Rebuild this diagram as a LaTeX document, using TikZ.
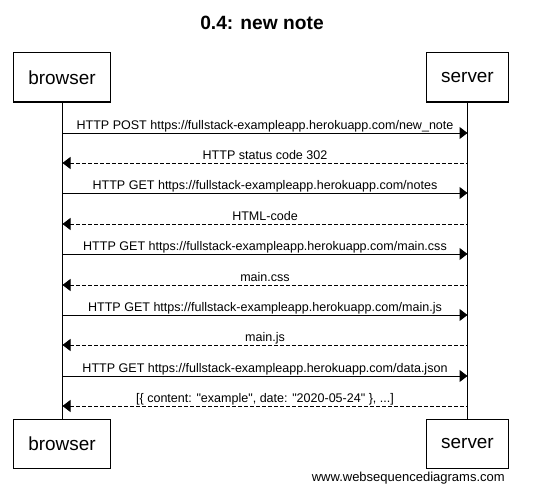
\documentclass[tikz,border=0pt]{standalone}
\usepackage{fontspec}
\setmainfont{Liberation Sans}[Ligatures=TeXOff]
\usepackage{tikz}
\usetikzlibrary{arrows.meta}
\usetikzlibrary{calc}

\begin{document}
\begin{tikzpicture}[x=0.75pt,y=-0.75pt,
    actor/.style={draw=black,line width=0.75pt,fill=white,inner xsep=11pt,minimum height=36.75pt,font=\fontsize{14.2}{17}\selectfont},
    call/.style={line width=0.75pt,-{Triangle[length=6pt,width=9pt]}},
    reply/.style={line width=0.75pt,dash pattern=on 3pt off 1.5pt,{Triangle[length=6pt,width=9pt]}-},
    msg/.style={midway,anchor=base,yshift=3pt,inner sep=0pt,font=\fontsize{9.4}{11}\selectfont}]
\fill[white] (0,0) rectangle (546,492);
\useasboundingbox (0,0) rectangle (546,492);
%%\draw[step=10,color=black!20,dotted] (0,0) grid (546,492);
\node[font=\bfseries\fontsize{14.4}{17}\selectfont] (title) at (262,23) {0.4: new note};

\node[actor] (browser) at (62,77.5) {browser};
\node[actor] (server) at (467.5,77.5) {server};
\node[actor] (browserb) at (62,443.5) {browser};
\node[actor] (serverb) at (467.5,443.5) {server};
\draw[line width=0.75pt] (browser) -- (browserb);
\draw[line width=0.75pt] (server) -- (serverb);

\foreach \y/\kind/\txt in {133/call/{HTTP POST https://fullstack-exampleapp.herokuapp.com/new\_note},
                           163/reply/{HTTP status code 302},
                           193/call/{HTTP GET https://fullstack-exampleapp.herokuapp.com/notes},
                           224/reply/{HTML-code},
                           254/call/{HTTP GET https://fullstack-exampleapp.herokuapp.com/main.css},
                           285/reply/{main.css},
                           315/call/{HTTP GET https://fullstack-exampleapp.herokuapp.com/main.js},
                           345/reply/{main.js},
                           376/call/{HTTP GET https://fullstack-exampleapp.herokuapp.com/data.json},
                           406/reply/{[\{ content: "example", date: "2020-05-24" \}, ...]}}
{
    \coordinate (b\y) at (62.5,\y);
    \coordinate (s\y) at (467.5,\y);
    \draw[\kind] (b\y) -- node[msg] {\txt} (s\y);
}

\node[anchor=base east,inner sep=0pt,font=\fontsize{9.75}{12}\selectfont] (wsd) at (505,481) {www.websequencediagrams.com};
\end{tikzpicture}
\end{document}
